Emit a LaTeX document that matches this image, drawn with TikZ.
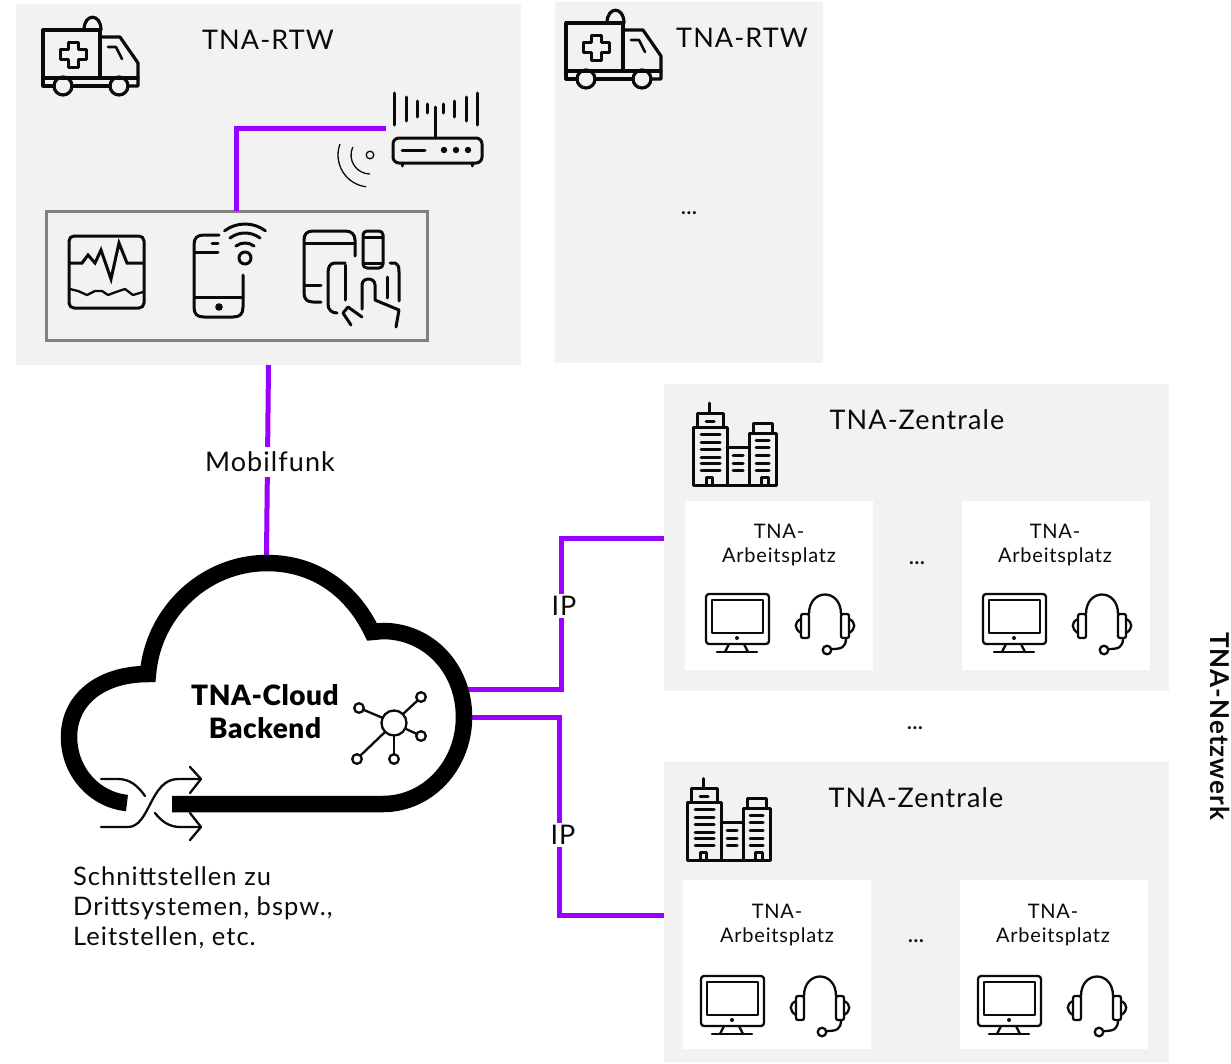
\documentclass[tikz,border=0pt]{standalone}
\usepackage{fontspec}
\setmainfont{Lato}[LetterSpace=4]
\newfontfamily\heavyfont{Lato Black}[LetterSpace=2]
\definecolor{linkpurple}{HTML}{9900FF}
\definecolor{panelgrey}{HTML}{F2F2F2}
\definecolor{framegrey}{HTML}{808080}
\definecolor{inkblack}{HTML}{0A0A0A}
\tikzset{
  panel/.style={fill=panelgrey,draw=none,inner sep=0pt,anchor=north west},
  whitebox/.style={fill=white,draw=none,inner sep=0pt,anchor=north west,minimum width=188pt,minimum height=169pt},
  link/.style={draw=linkpurple,line width=5pt},
  ic/.style={draw=inkblack,line width=3pt,line cap=round,line join=round},
  icthin/.style={draw=inkblack,line width=2.3pt,line cap=round,line join=round},
  head/.style={font=\fontsize{27}{30}\selectfont,text=inkblack,inner sep=0pt},
  work/.style={font=\fontsize{20}{24}\selectfont,text=inkblack,align=center,inner sep=0pt},
  dots/.style={font=\bfseries\fontsize{20}{24}\selectfont,text=inkblack,inner sep=0pt},
  ambulance/.pic={
    \draw[ic,line width=3.2pt] (100,30) -- (43,30) -- (43,86) -- (54,86);
    \draw[ic,line width=3.2pt] (100,30) -- (100,77);
    \draw[ic,line width=3.2pt] (43,78) -- (138,78);
    \draw[ic,line width=3.2pt] (72,86) -- (110,86);
    \draw[ic,line width=3.2pt] (128,86) -- (138,86) -- (138,63) -- (120,37) -- (100,37);
    \draw[ic,line width=3.2pt] (84,30) .. controls (84,13) and (101,13) .. (101,30);
    \draw[ic,line width=3.2pt] (63,86) circle[radius=9];
    \draw[ic,line width=3.2pt] (119,86) circle[radius=9];
    \draw[ic,line width=3pt] (68,42) -- (78,42) -- (78,49) -- (86,49) -- (86,59) -- (78,59) -- (78,67) -- (68,67) -- (68,59) -- (60,59) -- (60,49) -- (68,49) -- cycle;
    \draw[ic,line width=2.6pt] (108,47) -- (116,47) -- (122,59);
  },
  building/.pic={
    \draw[ic] (727,485) -- (693,485) -- (693,427) -- (727,427) -- cycle;
    \draw[ic] (697,427) -- (697,413) -- (723,413) -- (723,427);
    \draw[ic] (709,403) -- (709,413);
    \draw[ic] (706,421) -- (714,421);
    \draw[ic] (749,485) -- (749,433) -- (776,433) -- (776,485) -- cycle;
    \draw[ic] (753,433) -- (753,423) -- (772,423) -- (772,433);
    \draw[ic] (727,447) -- (749,447);
    \draw[ic] (727,485) -- (749,485);
    \foreach \yy in {434,442,449,457,463,470}{\draw[ic] (701,\yy) -- (720,\yy);}
    \foreach \yy in {455,463,470}{\draw[ic] (733,\yy) -- (743,\yy);}
    \foreach \yy in {440,447,455,463,470}{\draw[ic] (756,\yy) -- (769,\yy);}
    \draw[ic] (706,485) -- (706,477) -- (712,477) -- (712,485);
    \draw[ic] (761,485) -- (761,477) -- (768,477) -- (768,485);
  },
  desk/.pic={
    \draw[icthin,rounded corners=3pt] (706,594) rectangle (769,644);
    \draw[icthin] (712,600) rectangle (763,633);
    \fill[inkblack] (737,638) circle[radius=2];
    \draw[icthin] (729,644) -- (725,652);
    \draw[icthin] (744,644) -- (748,652);
    \draw[icthin] (717,652) -- (757,652);
    % headset
    \draw[icthin] (809,614) .. controls (809,588) and (841,588) .. (841,614);
    \draw[icthin,rounded corners=2pt] (809,614) -- (801,614) -- (801,638) -- (809,638) -- cycle;
    \draw[icthin,rounded corners=2pt] (841,614) -- (849,614) -- (849,638) -- (841,638) -- cycle;
    \draw[icthin] (801,619) .. controls (794,622) and (794,629) .. (801,633);
    \draw[icthin] (849,619) .. controls (856,622) and (856,629) .. (849,633);
    \draw[icthin] (846,638) .. controls (846,647) and (842,649) .. (832,649);
    \draw[icthin] (827,650) circle[radius=4.3];
  }
}
\begin{document}
\begin{tikzpicture}[x=1pt,y=-1pt]
\useasboundingbox (0,0) rectangle (1231,1063);
% panels
\node[panel,minimum width=505pt,minimum height=361pt] (rtwA) at (16,4) {};
\node[panel,minimum width=268pt,minimum height=361pt] (rtwB) at (555,2) {};
\node[panel,minimum width=505pt,minimum height=307pt] (hqA) at (664,384) {};
\node[panel,minimum width=505pt,minimum height=300pt] (hqB) at (664,762) {};
\node[whitebox] (wsA) at (685,501) {};
\node[whitebox] (wsB) at (962,501) {};
\node[whitebox] (wsC) at (683,880) {};
\node[whitebox] (wsD) at (960,880) {};
\node[draw=framegrey,line width=3pt,inner sep=0pt,minimum width=381pt,minimum height=129pt] (devices) at (236.5,275.5) {};
% connector ends
\coordinate (devTop) at (236,211);
\coordinate (routerPort) at (386,128);
\coordinate (rtwBottom) at (268.5,365);
\coordinate (cloudTop) at (266.5,556);
\coordinate (cloudPortA) at (468,689);
\coordinate (cloudPortB) at (468,717);
\coordinate (bendA) at (561,538);
\coordinate (bendB) at (559,915);
\coordinate (hqPortA) at (664,538);
\coordinate (hqPortB) at (664,915);
% connectors
\draw[link] (devTop) |- (routerPort);
\draw[link] (rtwBottom) -- (cloudTop);
\draw[link] (cloudPortA) -| (bendA) -- (hqPortA);
\draw[link] (cloudPortB) -| (bendB) -- (hqPortB);
% cloud
\draw[draw=black,line width=16.5pt,miter limit=4] (127,803) .. controls (95,800) and (69,772) .. (69,737) .. controls (69,700) and (100,674) .. (148,674) .. controls (153,612) and (205,563) .. (267,563) .. controls (315,563) and (352,590) .. (372,632) -- (383,631) .. controls (428,631) and (464,668) .. (464,717) .. controls (464,765) and (428,804) .. (383,804) -- (172,804);
% labels
\node[head,fill=white,inner xsep=3pt,inner ysep=5pt] (lblMobil) at (270,462) {Mobilfunk};
\node[head,fill=white,inner xsep=1pt,inner ysep=2pt] (lblIpA) at (564,606) {IP};
\node[head,fill=white,inner xsep=1pt,inner ysep=2pt] (lblIpB) at (563,835) {IP};
\node[head] (titleA) at (268,40) {TNA-RTW};
\node[head] (titleB) at (742,38) {TNA-RTW};
\node[head] (titleC) at (917,420) {TNA-Zentrale};
\node[head] (titleD) at (916,798) {TNA-Zentrale};
\node[head,font=\heavyfont\fontsize{28}{33}\selectfont,align=center,text=black] (cloudName) at (265,712) {TNA-Cloud\\Backend};
\node[work] (wsTextA) at (779,545) {TNA-\\Arbeitsplatz};
\node[work] (wsTextB) at (1055,545) {TNA-\\Arbeitsplatz};
\node[work] (wsTextC) at (777,925) {TNA-\\Arbeitsplatz};
\node[work] (wsTextD) at (1053,925) {TNA-\\Arbeitsplatz};
\node[dots] (dotsA) at (689,213) {...};
\node[dots] (dotsB) at (917,563) {...};
\node[dots] (dotsC) at (915,728) {...};
\node[dots] (dotsD) at (916,941) {...};
\node[font=\fontsize{25.5}{30}\selectfont,align=left,anchor=north west,inner sep=0pt,text=inkblack] (ifaces) at (73,867) {Schnittstellen zu\\Drittsystemen, bspw.,\\Leitstellen, etc.};
\node[font=\bfseries\fontsize{26}{30}\selectfont,rotate=-90,inner sep=0pt,text=inkblack] (netz) at (1220,726) {TNA-Netzwerk};
% ambulances
\pic at (0,0) {ambulance};
\pic at (523,-7) {ambulance};
% router
\foreach \xx/\ya/\yb in {394/93/125,406/97/121,417/101/117,427/104/113,443/104/113,454/101/117,466/97/121,477/93/125}{\draw[ic] (\xx,\ya) -- (\xx,\yb);}
\draw[ic] (435,107) -- (435,138);
\draw[ic,rounded corners=6pt] (393,138) rectangle (482,163);
\draw[ic] (402,150) -- (425,150);
\foreach \xx in {444,456,468}{\fill[inkblack] (\xx,150) circle[radius=3.2];}
\draw[ic] (402,163) -- (402,166);
\draw[ic] (472,163) -- (472,166);
\draw[inkblack,line width=1.3pt] (370,155) circle[radius=3.8];
\draw[inkblack,line width=1.3pt] (370,155) ++(205:19) arc[start angle=205,end angle=90,radius=19];
\draw[inkblack,line width=1.3pt] (370,155) ++(200:32) arc[start angle=200,end angle=97,radius=32];
% patient monitor
\draw[ic,rounded corners=5pt] (69,236) rectangle (144,308);
\draw[ic,line join=miter] (70,263) -- (82,263) -- (88,255) -- (95,263) -- (101,250) -- (111,279) -- (119,243) -- (127,263) -- (143,263);
\draw[icthin] (70,289) -- (78,291) -- (87,295) -- (95,291) -- (102,291) -- (108,295) -- (116,292) -- (125,289) -- (133,295) -- (143,292);
% phone with wifi
\draw[ic] (219,235) -- (204,235) .. controls (197,235) and (194,238) .. (194,245) -- (194,307) .. controls (194,314) and (197,317) .. (204,317) -- (233,317) .. controls (240,317) and (243,314) .. (243,307) -- (243,275);
\draw[ic] (195,252) -- (218,252);
\draw[ic] (212,243) -- (218,243);
\draw[ic] (195,297) -- (243,297);
\fill[inkblack] (219,307) circle[radius=3.8];
\draw[ic] (245,258) circle[radius=6];
\foreach \rr in {15,25,34}{\draw[ic] (245,258) ++(233:\rr) arc[start angle=233,end angle=307,radius=\rr];}
% tablet, phone and hand
\draw[ic] (355,256) -- (355,240) .. controls (355,234) and (351,231) .. (345,231) -- (313,231) .. controls (307,231) and (304,234) .. (304,240) -- (304,293) .. controls (304,299) and (307,302) .. (313,302) -- (321,302);
\draw[ic] (305,243) -- (355,243);
\draw[ic] (305,285) -- (321,285);
\draw[ic,rounded corners=4pt] (363,231) rectangle (383,268);
\draw[ic] (364,237) -- (382,237);
\draw[ic] (364,263) -- (382,263);
\draw[ic] (345,263) -- (335,263) .. controls (330,263) and (328,267) .. (328,273) -- (328,304) .. controls (328,310) and (332,313) .. (337,313);
\draw[ic] (345,265) -- (345,300);
\draw[ic] (362,309) -- (362,285) .. controls (362,277) and (375,277) .. (375,285) -- (375,300) -- (399,310) -- (396,327);
\draw[ic] (387,277) -- (387,298);
\draw[ic] (390,263) -- (395,263) .. controls (399,265) and (399,268) .. (399,272) -- (399,301);
\draw[ic] (351,325) -- (343,313) -- (348,307) -- (362,317);
% cloud hub
\draw[icthin] (394,723) circle[radius=12.5];
\foreach \xx/\yy in {359/708,421/697,421/736,394/759,357/759}{\draw[icthin] (\xx,\yy) circle[radius=4.8];}
\draw[icthin] (364,710) -- (383,718);
\draw[icthin] (417,701) -- (403,714);
\draw[icthin] (417,734) -- (406,729);
\draw[icthin] (394,736) -- (394,754);
\draw[icthin] (361,755) -- (385,732);
% interface arrows
\draw[icthin] (101,779) -- (118,779) .. controls (130,779) and (138,786) .. (145,796);
\draw[icthin] (101,827) -- (128,827) .. controls (150,827) and (150,779) .. (178,779) -- (200,779);
\draw[icthin] (155,813) .. controls (162,822) and (170,827) .. (180,827) -- (200,827);
\draw[icthin] (190,767) -- (201,779) -- (190,793);
\draw[icthin] (190,813) -- (201,827) -- (190,840);
% buildings
\pic at (0,0) {building};
\pic at (-6,375.5) {building};
% workstations
\pic at (0,0) {desk};
\pic at (277,0) {desk};
\pic at (-5,382) {desk};
\pic at (272,382) {desk};
\end{tikzpicture}
\end{document}
